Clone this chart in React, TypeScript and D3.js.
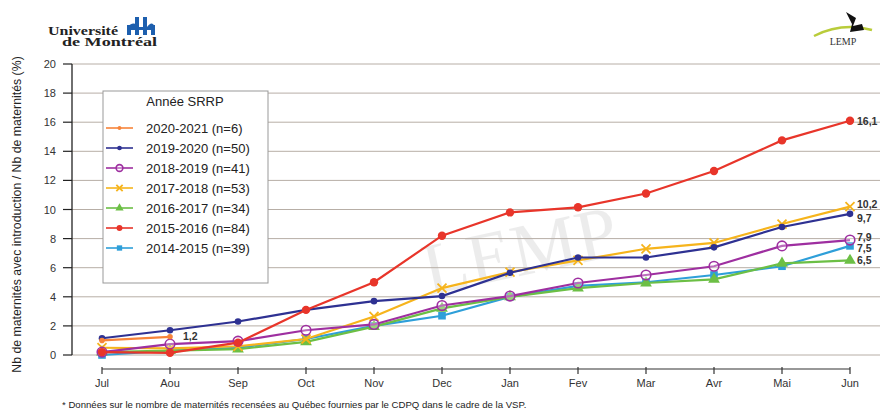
import React from "react";
import * as d3 from "d3";

const months = ["Jul", "Aou", "Sep", "Oct", "Nov", "Dec", "Jan", "Fev", "Mar", "Avr", "Mai", "Jun"];
const yTicks = [0, 2, 4, 6, 8, 10, 12, 14, 16, 18, 20];

const s2020 = [1.0, 1.25];
const s2019 = [1.15, 1.7, 2.3, 3.1, 3.7, 4.05, 5.65, 6.7, 6.7, 7.4, 8.8, 9.7];
const s2018 = [0.2, 0.75, 0.95, 1.7, 2.1, 3.4, 4.05, 4.95, 5.5, 6.1, 7.5, 7.9];
const s2017 = [0.5, 0.45, 0.6, 1.1, 2.65, 4.6, 5.7, 6.5, 7.3, 7.7, 9.0, 10.2];
const s2016 = [0.2, 0.3, 0.4, 0.9, 1.95, 3.2, 4.0, 4.6, 4.95, 5.2, 6.3, 6.5];
const s2015 = [0.2, 0.15, 0.85, 3.1, 5.0, 8.2, 9.8, 10.15, 11.1, 12.65, 14.75, 16.1];
const s2014 = [0.0, 0.3, 0.5, 1.1, 2.0, 2.7, 4.0, 4.75, 5.0, 5.5, 6.1, 7.5];

const seriesNames = [
  "2020-2021 (n=6)",
  "2019-2020 (n=50)",
  "2018-2019 (n=41)",
  "2017-2018 (n=53)",
  "2016-2017 (n=34)",
  "2015-2016 (n=84)",
  "2014-2015 (n=39)",
];
const endLabels = ["", "9,7", "7,9", "10,2", "6,5", "16,1", "7,5"];

type Marker = "dot" | "circle" | "open" | "x" | "tri" | "bigdot" | "square";
const series = [
  { name: seriesNames[0], values: s2020, color: "#f7843a", marker: "dot" as Marker, label: endLabels[0], dy: 0 },
  { name: seriesNames[1], values: s2019, color: "#2e3192", marker: "circle" as Marker, label: endLabels[1], dy: 4 },
  { name: seriesNames[2], values: s2018, color: "#9e2fa0", marker: "open" as Marker, label: endLabels[2], dy: -3 },
  { name: seriesNames[3], values: s2017, color: "#f6b41c", marker: "x" as Marker, label: endLabels[3], dy: -3 },
  { name: seriesNames[4], values: s2016, color: "#6cbf45", marker: "tri" as Marker, label: endLabels[4], dy: 0 },
  { name: seriesNames[5], values: s2015, color: "#e8352a", marker: "bigdot" as Marker, label: endLabels[5], dy: 0 },
  { name: seriesNames[6], values: s2014, color: "#2e9fd9", marker: "square" as Marker, label: endLabels[6], dy: 2 },
];
const drawOrder = [6, 4, 3, 2, 1, 5, 0];

const W = 882, H = 410;
const x = d3.scalePoint<string>().domain(months).range([102, 850]);
const y = d3.scaleLinear().domain([0, 20]).range([355, 64]);
const font = "'Liberation Sans', Arial, Helvetica, sans-serif";

function MarkerShape({ m, cx, cy, color, k = 1 }: { m: Marker; cx: number; cy: number; color: string; k?: number }) {
  switch (m) {
    case "dot":
      return <circle cx={cx} cy={cy} r={2.8 * k} fill={color} />;
    case "circle":
      return <circle cx={cx} cy={cy} r={3.3 * k} fill={color} />;
    case "bigdot":
      return <circle cx={cx} cy={cy} r={4.2 * k} fill={color} />;
    case "open":
      return <circle cx={cx} cy={cy} r={4.8 * k} fill="white" fillOpacity={0.3} stroke={color} strokeWidth={1.6} />;
    case "x": {
      const h = 4.5 * k;
      return (
        <path d={`M${cx - h},${cy - h}L${cx + h},${cy + h}M${cx - h},${cy + h}L${cx + h},${cy - h}`} stroke={color} strokeWidth={1.8} />
      );
    }
    case "tri":
      return <path d={d3.symbol(d3.symbolTriangle, 60 * k * k)()!} transform={`translate(${cx},${cy})`} fill={color} />;
    case "square":
      return <rect x={cx - 3.8 * k} y={cy - 3.8 * k} width={7.6 * k} height={7.6 * k} fill={color} />;
  }
  return null;
}

export default function App() {
  const line = d3
    .line<number>()
    .x((_, i) => x(months[i])!)
    .y((d) => y(d));
  const legendX = 103, legendY = 91;
  return (
    <div style={{ position: "absolute", left: 0, top: 0 }}>
      <svg width={W} height={H} style={{ display: "block", background: "white" }} fontFamily={font}>
        {/* Université de Montréal logo */}
        <text x={48} y={35} fontFamily="'Liberation Serif', 'DejaVu Serif', serif" fontWeight="bold" fontSize={11.5} fill="#222" textLength={70} lengthAdjust="spacingAndGlyphs">
          Université
        </text>
        <text x={62} y={45.5} fontFamily="'Liberation Serif', 'DejaVu Serif', serif" fontWeight="bold" fontSize={11.5} fill="#222" textLength={95} lengthAdjust="spacingAndGlyphs">
          de Montréal
        </text>
        <g fill="#1d5fae">
          <rect x={127} y={25} width={4} height={10} />
          <rect x={135} y={17} width={4} height={18} />
          <rect x={143} y={17} width={4} height={18} />
          <rect x={151} y={25} width={4} height={10} />
          <path d="M127,27 Q134,20 139,27 Z" />
          <path d="M147,27 Q152,20 155,27 Z" />
          <rect x={127} y={27} width={28} height={3} />
        </g>
        {/* LEMP logo */}
        <path d="M814,36 Q842,22 872,30" fill="none" stroke="#b9cc3a" strokeWidth={2.5} />
        <path d="M846,12 L856,18 L853,26 L862,24 L864,30 L850,32 L852,24 Z" fill="#111" />
        <text x={843} y={45} textAnchor="middle" fontFamily="'Liberation Serif', serif" fontSize={10} fill="#333">
          LEMP
        </text>

        {/* watermark */}
        <text x={525} y={275} textAnchor="middle" fontFamily="'Liberation Serif', serif" fontSize={74} fill="#000" opacity={0.07} transform="rotate(-12,525,275)">
          LEMP
        </text>

        {/* gridlines */}
        {yTicks.map((t) => (
          <line key={t} x1={72} x2={880} y1={y(t)} y2={y(t)} stroke="#b7aea6" strokeWidth={1} />
        ))}
        {/* y axis */}
        <line x1={72} x2={72} y1={y(20)} y2={y(0)} stroke="#222" strokeWidth={1.3} />
        {yTicks.map((t) => (
          <g key={t}>
            <line x1={63} x2={72} y1={y(t)} y2={y(t)} stroke="#222" strokeWidth={1.2} />
            <text x={56} y={y(t) + 4} textAnchor="end" fontSize={11} fill="#333">
              {t}
            </text>
          </g>
        ))}
        <text
          transform={`translate(21,${(y(0) + y(20)) / 2 + 5}) rotate(-90)`}
          textAnchor="middle"
          fontSize={12.3}
          fill="#222"
        >
          Nb de maternités avec introduction / Nb de maternités (%)
        </text>

        {/* x axis */}
        <line x1={x(months[0])} x2={x(months[months.length - 1])} y1={369} y2={369} stroke="#333" strokeWidth={1.2} />
        {months.map((m) => (
          <g key={m}>
            <line x1={x(m)} x2={x(m)} y1={367} y2={374} stroke="#333" strokeWidth={1.2} />
            <text x={x(m)} y={387} textAnchor="middle" fontSize={11} fill="#333">
              {m}
            </text>
          </g>
        ))}

        {/* legend */}
        <rect x={legendX} y={legendY} width={165} height={192} fill="white" stroke="#999" strokeWidth={1} />
        <text x={legendX + 82} y={legendY + 15} textAnchor="middle" fontSize={13} fill="#222">
          Année SRRP
        </text>
        {series.map((s, i) => {
          const ly = legendY + 37 + i * 20;
          return (
            <g key={s.name}>
              <line x1={legendX + 3} x2={legendX + 30} y1={ly} y2={ly} stroke={s.color} strokeWidth={1.6} />
              <MarkerShape m={s.marker} cx={legendX + 16.5} cy={ly} color={s.color} k={0.7} />
              <text x={legendX + 43} y={ly + 4.5} fontSize={13} fill="#222">
                {s.name}
              </text>
            </g>
          );
        })}

        {/* lines */}
        {drawOrder.map((i) => {
          const s = series[i];
          return (
            <g key={s.name}>
              <path d={line(s.values)!} fill="none" stroke={s.color} strokeWidth={2.2} />
              {s.values.map((v, j) => (
                <MarkerShape key={j} m={s.marker} cx={x(months[j])!} cy={y(v)} color={s.color} />
              ))}
            </g>
          );
        })}

        {/* end labels */}
        {series.map((s) =>
          s.label ? (
            <text
              key={s.name}
              x={857}
              y={y(s.values[s.values.length - 1]) + 4 + s.dy}
              fontSize={10.5}
              fontWeight="bold"
              fill="#333"
            >
              {s.label}
            </text>
          ) : null
        )}
        <text x={183} y={y(s2020[1]) + 3} fontSize={10.5} fontWeight="bold" fill="#333">
          1,2
        </text>

        {/* footnote */}
        <text x={62} y={408} fontSize={9.6} fill="#222">
          * Données sur le nombre de maternités recensées au Québec fournies par le CDPQ dans le cadre de la VSP.
        </text>
      </svg>
    </div>
  );
}
